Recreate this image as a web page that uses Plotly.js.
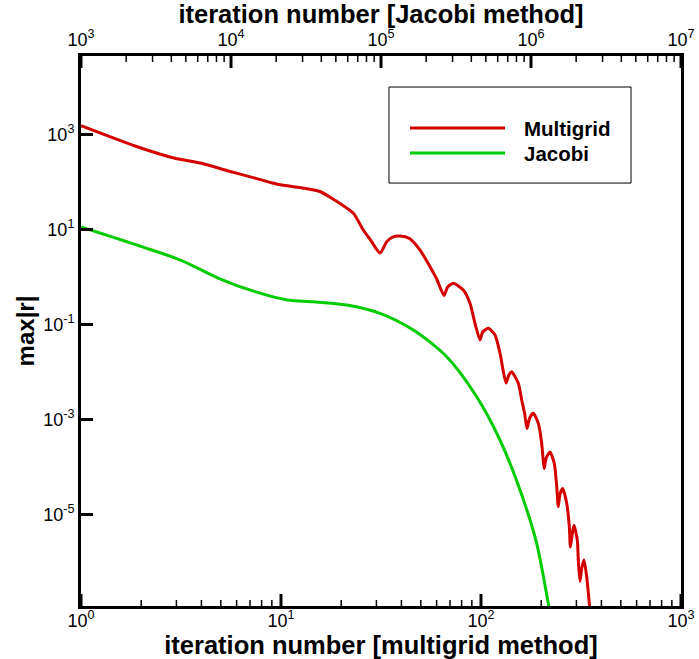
<!DOCTYPE html>
<html>
<head>
<meta charset="utf-8">
<script src="https://cdn.plot.ly/plotly-3.0.1.min.js"></script>
<style>html,body{margin:0;padding:0;background:#fff;}#chart{width:699px;height:659px;}</style>
</head>
<body>
<div id="chart"></div>
<script>
// Multigrid: iteration number (bottom axis) vs max|r|
const multigridIter = [1.00, 1.862, 2.951, 4.013, 5.45, 7.03, 8.98, 10.08, 13.18, 15.67, 18.26, 22.99, 25.79, 27.95,
  31.26, 33.78, 36.11, 39.36, 43.9, 49.55, 55.6, 60.05, 65.31, 68.08, 72.7, 81.56, 88.1, 93.3, 98.86, 101.9, 108.8,
  117.5, 124.5, 128.4, 133.4, 137.9, 142.4, 153.7, 159.8, 165.4, 169.8, 175.2, 182.6, 193.4, 201.1, 204.2,
  207.0, 211.8, 221.3, 232.5, 239.1, 243.5, 248.3, 256.1, 268.2, 276.4, 279.9, 286.4, 291.7, 303.0, 306.9,
  312.6, 319.2, 327.3, 337.6, 347.9, 352.8];
const multigridRes = [1531, 573, 316, 248, 171, 128, 96.6, 86.5, 73.6, 63.1, 43.3, 21.9, 9.75, 6.12,
  3.20, 5.53, 6.95, 7.29, 6.47, 3.70, 1.65, 0.908, 0.408, 0.615, 0.736, 0.532, 0.279, 0.106, 0.0472, 0.0695, 0.0832,
  0.0601, 0.0248, 0.0121, 0.00586, 0.00865, 0.0101, 0.00578, 0.00258, 0.00131, 6.47e-4, 1.08e-3, 1.35e-3, 8.32e-4, 3.15e-4, 1.55e-4,
  9.29e-5, 1.55e-4, 2.07e-4, 1.20e-4, 3.85e-5, 1.46e-5, 2.70e-5, 3.52e-5, 1.72e-5, 5.53e-6, 2.07e-6, 4.08e-6, 5.93e-6, 2.90e-6, 1.0e-6,
  3.93e-7, 7.48e-7, 1.10e-6, 4.91e-7, 1.37e-7, 7.66e-8];

// Jacobi: iteration number (top axis) vs max|r|
const jacobiIter = [1000, 2540, 4692, 8190, 14450, 23810, 35380, 59050, 98470, 164200, 274200,
  434500, 621400, 844900, 1091000, 1304000, 1349000];
const jacobiRes = [11.3, 4.35, 2.22, 0.953, 0.491, 0.328, 0.302, 0.258, 0.172, 0.0766, 0.0210,
  0.00302, 3.70e-4, 3.28e-5, 2.48e-6, 1.35e-7, 7.66e-8];

const seriesNames = ["Multigrid", "Jacobi"];
const seriesColors = ["#d40000", "#00cc00"];

const bottomTicks = [1, 10, 100, 1000];
const bottomTickText = ["10<sup>0</sup>", "10<sup>1</sup>", "10<sup>2</sup>", "10<sup>3</sup>"];
const topTicks = [1e3, 1e4, 1e5, 1e6, 1e7];
const topTickText = ["10<sup>3</sup>", "10<sup>4</sup>", "10<sup>5</sup>", "10<sup>6</sup>", "10<sup>7</sup>"];
const yTicks = [1e-5, 1e-3, 1e-1, 1e1, 1e3];
const yTickText = ["10<sup>-5</sup>", "10<sup>-3</sup>", "10<sup>-1</sup>", "10<sup>1</sup>", "10<sup>3</sup>"];

const FONT = "Liberation Sans, Arial, sans-serif";

function minorVals(ticks) {
  const v = [];
  for (let i = 0; i < ticks.length - 1; i++) for (let k = 2; k <= 9; k++) v.push(k * ticks[i]);
  return v;
}

const traces = [
  {x: multigridIter, y: multigridRes, type: "scatter", mode: "lines", name: seriesNames[0],
   xaxis: "x", yaxis: "y", line: {color: seriesColors[0], width: 3, shape: "spline", smoothing: 0.6}},
  {x: jacobiIter, y: jacobiRes, type: "scatter", mode: "lines", name: seriesNames[1],
   xaxis: "x2", yaxis: "y", line: {color: seriesColors[1], width: 3, shape: "spline", smoothing: 0.8}}
];

const shapes = [];
// tick marks pointing inward (major and minor)
function xTick(ref, v, atTop, len, w) {
  shapes.push({type: "line", xref: ref, yref: "paper", ysizemode: "pixel", yanchor: atTop ? 1 : 0,
    x0: v, x1: v, y0: 0, y1: atTop ? -len : len, line: {color: "#000", width: w}, layer: "above"});
}
bottomTicks.forEach(v => xTick("x", v, false, 12, 3));
minorVals(bottomTicks).forEach(v => xTick("x", v, false, 6, 1.5));
topTicks.forEach(v => xTick("x2", v, true, 12, 3));
minorVals(topTicks).forEach(v => xTick("x2", v, true, 6, 1.5));
yTicks.forEach(v => shapes.push({type: "line", xref: "paper", yref: "y", xsizemode: "pixel", xanchor: 0,
  x0: 0, x1: 12, y0: v, y1: v, line: {color: "#000", width: 3}, layer: "above"}));

// legend box (drawn manually to match long line samples)
const lgX0 = 0.5133, lgX1 = 0.9167, lgY0 = 0.769, lgY1 = 0.9436;
const lgLineX0 = 0.5483, lgLineX1 = 0.7067, lgTextX = 0.735;
const lgRowY = [0.869, 0.8236];
shapes.push({type: "rect", xref: "paper", yref: "paper", x0: lgX0, x1: lgX1, y0: lgY0, y1: lgY1,
  line: {color: "#000", width: 1}, fillcolor: "#fff", layer: "above"});
const annotations = [];
seriesNames.forEach((n, i) => {
  shapes.push({type: "line", xref: "paper", yref: "paper", x0: lgLineX0, x1: lgLineX1, y0: lgRowY[i], y1: lgRowY[i],
    line: {color: seriesColors[i], width: 3}, layer: "above"});
  annotations.push({xref: "paper", yref: "paper", x: lgTextX, y: lgRowY[i], xanchor: "left", yanchor: "middle",
    text: "<b>" + n + "</b>", showarrow: false, font: {family: FONT, size: 20.5, color: "#000"}});
});

const axisCommon = {
  type: "log", showgrid: false, zeroline: false, showline: true, linecolor: "#000", linewidth: 3,
  ticks: "", tickmode: "array", tickfont: {family: FONT, size: 18, color: "#000"}
};

const layout = {
  width: 699, height: 659,
  margin: {l: 81, r: 18, t: 56, b: 53, autoexpand: false},
  paper_bgcolor: "#fff", plot_bgcolor: "#fff",
  showlegend: false,
  xaxis: Object.assign({}, axisCommon, {
    range: [0, 3], tickvals: bottomTicks, ticktext: bottomTickText, mirror: false, ticklabelstandoff: -4,
    title: {text: "<b>iteration number [multigrid method]</b>", font: {family: FONT, size: 25.5, color: "#000"}, standoff: 0}
  }),
  xaxis2: Object.assign({}, axisCommon, {
    range: [3, 7], tickvals: topTicks, ticktext: topTickText, overlaying: "x", side: "top", anchor: "y",
    title: {text: "<b>iteration number [Jacobi method]</b>", font: {family: FONT, size: 25.5, color: "#000"}, standoff: 0}
  }),
  yaxis: Object.assign({}, axisCommon, {
    range: [-6.926, 4.653], tickvals: yTicks, ticktext: yTickText, mirror: true,
    title: {text: "<b>max|r|</b>", font: {family: FONT, size: 24, color: "#000"}, standoff: 2}
  }),
  shapes: shapes,
  annotations: annotations
};

Plotly.newPlot("chart", traces, layout, {displayModeBar: false, staticPlot: true});
</script>
</body>
</html>
